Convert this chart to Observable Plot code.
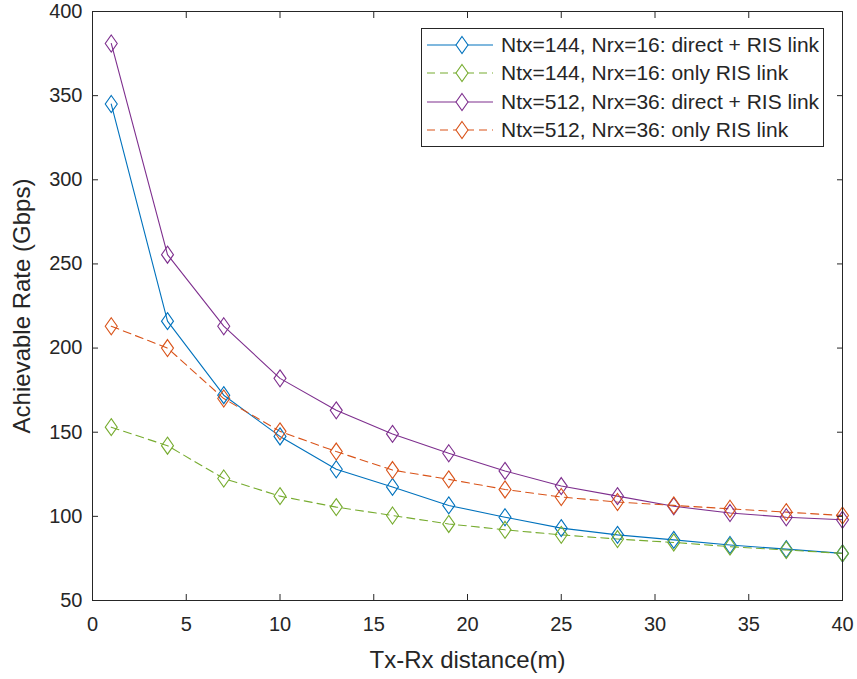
<!DOCTYPE html>
<html>
<head>
<meta charset="utf-8">
<script src="https://cdn.jsdelivr.net/npm/d3@7"></script>
<script src="https://cdn.jsdelivr.net/npm/@observablehq/plot@0.6"></script>
<style>
  html, body { margin: 0; padding: 0; background: #fff; }
  #wrap { position: relative; width: 857px; height: 679px; font-family: "Liberation Sans", Arial, sans-serif; }
  #legend { position: absolute; left: 421px; top: 28px; width: 403px; height: 119px; border: 1px solid #262626; background: #fff; box-sizing: border-box; }
  .row { position: absolute; left: 0; height: 28px; display: flex; align-items: center; }
  .row svg { display: block; }
  .row span { font-size: 21px; color: #262626; margin-left: 2px; white-space: nowrap; }
</style>
</head>
<body>
<div id="wrap"></div>
<script>
const distance = [1, 4, 7, 10, 13, 16, 19, 22, 25, 28, 31, 34, 37, 40];
const rate144Direct = [345, 216, 172, 147.5, 128, 117.5, 106.5, 99.5, 93, 89, 86, 83, 80.5, 78];
const rate144Ris    = [153, 142, 122.5, 112, 105.5, 100.5, 95.5, 92, 89, 86.5, 84.5, 82, 80, 78];
const rate512Direct = [381, 255.5, 213, 182, 163, 149, 137.5, 127, 118, 112, 106, 102, 99.5, 98];
const rate512Ris    = [213, 200, 170, 150.5, 138.5, 127.5, 122, 116, 111.5, 108.5, 106.5, 104.5, 102.5, 100.5];
const seriesNames = [
  "Ntx=144, Nrx=16: direct + RIS link",
  "Ntx=144, Nrx=16: only RIS link",
  "Ntx=512, Nrx=36: direct + RIS link",
  "Ntx=512, Nrx=36: only RIS link"
];
const seriesColors = ["#0072BD", "#77AC30", "#7E2F8E", "#D95319"];
const seriesDashed = [false, true, false, true];
const xTicks = [0, 5, 10, 15, 20, 25, 30, 35, 40];
const yTicks = [50, 100, 150, 200, 250, 300, 350, 400];
const xLabel = "Tx-Rx distance(m)";
const yLabel = "Achievable Rate (Gbps)";

const allValues = [rate144Direct, rate144Ris, rate512Direct, rate512Ris];
const data = [];
allValues.forEach((vals, si) => vals.forEach((v, i) => data.push({x: distance[i], y: v, s: si})));

const diamond = {
  draw(ctx, size) {
    const r = Math.sqrt(size / Math.PI);
    const h = r * 1.7, w = r * 1.2;
    ctx.moveTo(0, -h); ctx.lineTo(w, 0); ctx.lineTo(0, h); ctx.lineTo(-w, 0); ctx.closePath();
  }
};

const ink = "#262626";
const marks = [];
allValues.forEach((vals, si) => {
  const d = data.filter(p => p.s === si);
  marks.push(Plot.line(d, {x: "x", y: "y", stroke: seriesColors[si], strokeWidth: 1.1,
    strokeDasharray: seriesDashed[si] ? "8,5" : null}));
});
allValues.forEach((vals, si) => {
  const d = data.filter(p => p.s === si);
  marks.push(Plot.dot(d, {x: "x", y: "y", symbol: diamond, r: 5, fill: "none", stroke: seriesColors[si], strokeWidth: 1.1}));
});

const chart = Plot.plot({
  width: 857, height: 679,
  marginLeft: 92, marginRight: 15, marginTop: 11, marginBottom: 79,
  style: {fontFamily: "'Liberation Sans', Arial, sans-serif", fontSize: "20px", color: ink, background: "#fff"},
  x: {domain: [0, 40]},
  y: {domain: [50, 400]},
  marks: [
    ...marks,
    Plot.frame({stroke: ink, strokeWidth: 1}),
    Plot.axisX({anchor: "bottom", ticks: xTicks, tickSize: -6, tickPadding: 22, label: null, fontSize: 20, stroke: ink, fill: ink}),
    Plot.axisX({anchor: "top", ticks: xTicks, tickSize: -6, tickFormat: () => "", label: null, stroke: ink}),
    Plot.axisY({anchor: "left", ticks: yTicks, tickSize: -6, tickPadding: 16, label: null, fontSize: 20, stroke: ink, fill: ink}),
    Plot.axisY({anchor: "right", ticks: yTicks, tickSize: -6, tickFormat: () => "", label: null, stroke: ink}),
    Plot.text([xLabel], {frameAnchor: "bottom", dy: 60, fontSize: 24, fill: ink, lineAnchor: "middle", textAnchor: "middle"}),
    Plot.text([yLabel], {frameAnchor: "left", dx: -70, rotate: -90, fontSize: 24, fill: ink, textAnchor: "middle", lineAnchor: "middle"})
  ]
});

const wrap = document.getElementById("wrap");
wrap.appendChild(chart);

const legend = document.createElement("div");
legend.id = "legend";
seriesNames.forEach((name, i) => {
  const row = document.createElement("div");
  row.className = "row";
  row.style.top = (2 + i * 28.4) + "px";
  const dash = seriesDashed[i] ? 'stroke-dasharray="8,5"' : "";
  row.innerHTML = `<svg width="72" height="28" style="margin-left:5px">
      <line x1="0" x2="66" y1="14" y2="14" stroke="${seriesColors[i]}" stroke-width="1.1" ${dash}/>
      <path d="M${35},${14-8.5} L${35+6},14 L35,${14+8.5} L${35-6},14 Z" fill="#fff" stroke="${seriesColors[i]}" stroke-width="1.1"/>
    </svg><span>${name}</span>`;
  legend.appendChild(row);
});
wrap.appendChild(legend);
</script>
</body>
</html>
